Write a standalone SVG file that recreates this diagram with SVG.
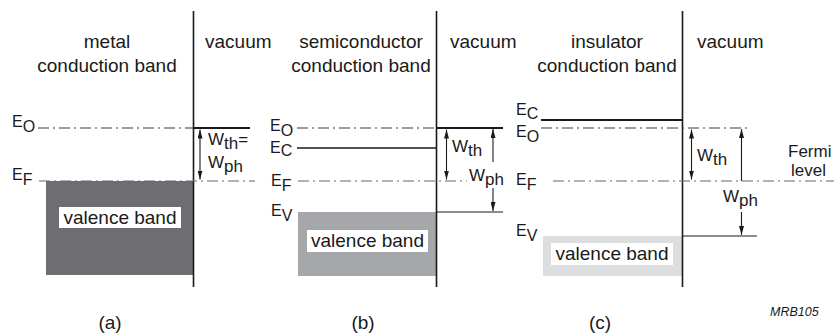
<svg xmlns="http://www.w3.org/2000/svg" width="834" height="334" viewBox="0 0 834 334">
<style>
text{font-family:"Liberation Sans",Arial,sans-serif;fill:#1a1a1a}
.t{font-size:19px}
.c{text-anchor:middle}
.e{font-size:16px}
.w{font-size:17px}
.f{font-size:17px}
.axis{stroke:#1a1a1a;stroke-width:1.6;fill:none}
.lvl{stroke:#1a1a1a;fill:none}
.dd{stroke:#3a3a3a;stroke-width:1.1;stroke-dasharray:11 4 2 4;fill:none}
.dg{stroke:#666;stroke-width:1.2;stroke-dasharray:11 4 2 4;fill:none}
.arr{stroke:#1a1a1a;stroke-width:1.1;fill:none;marker-start:url(#ah);marker-end:url(#ah)}
.arr1{stroke:#1a1a1a;stroke-width:1.1;fill:none;marker-end:url(#ah)}
.box{fill:#fff}
</style>
<defs>
<marker id="ah" viewBox="0 0 9 5" refX="9" refY="2.5" markerWidth="9" markerHeight="5" markerUnits="userSpaceOnUse" orient="auto-start-reverse">
<path d="M0,0 L9,2.5 L0,5 z" fill="#1a1a1a"/>
</marker>
</defs>
<rect width="834" height="334" fill="#fff"/>

<g id="panel-a">
<rect x="46" y="181" width="147.5" height="94" fill="#6e6e72"/>
<rect class="box" x="59" y="207" width="122" height="21"/>
<text class="t c" x="120" y="224">valence band</text>
<line class="axis" x1="193.5" y1="11" x2="193.5" y2="287"/>
<text class="t c" x="107" y="48">metal</text>
<text class="t c" x="107" y="72">conduction band</text>
<text class="t" x="205" y="48">vacuum</text>
<text class="e" x="12" y="127">E<tspan dy="5">O</tspan></text>
<text class="e" x="12" y="180">E<tspan dy="5">F</tspan></text>
<text class="w" x="208" y="145">W<tspan dy="4">th</tspan><tspan dy="-4">=</tspan></text>
<text class="w" x="208" y="168">W<tspan dy="4">ph</tspan></text>
<text class="t c" x="110" y="329">(a)</text>
</g>

<g id="panel-b">
<rect x="298" y="212" width="138.5" height="64" fill="#a6a7aa"/>
<rect class="box" x="307" y="230" width="121" height="22"/>
<text class="t c" x="367.5" y="247">valence band</text>
<line class="axis" x1="436.5" y1="11" x2="436.5" y2="287"/>
<text class="t c" x="361" y="48">semiconductor</text>
<text class="t c" x="361" y="72">conduction band</text>
<text class="t" x="450" y="48">vacuum</text>
<text class="e" x="270" y="131">E<tspan dy="5">O</tspan></text>
<text class="e" x="270" y="153">E<tspan dy="3">C</tspan></text>
<text class="e" x="271" y="186">E<tspan dy="5">F</tspan></text>
<text class="e" x="271" y="216">E<tspan dy="5">V</tspan></text>
<text class="w" x="452" y="152">W<tspan dy="4">th</tspan></text>
<text class="w" x="469" y="181">W<tspan dy="4">ph</tspan></text>
<text class="t c" x="363" y="329">(b)</text>
</g>

<g id="panel-c">
<rect x="543" y="236" width="139.5" height="40" fill="#dcdddf"/>
<rect class="box" x="551" y="243" width="122" height="22"/>
<text class="t c" x="612" y="260">valence band</text>
<line class="axis" x1="682.5" y1="11" x2="682.5" y2="287"/>
<text class="t c" x="607" y="48">insulator</text>
<text class="t c" x="607" y="72">conduction band</text>
<text class="t" x="697" y="48">vacuum</text>
<text class="e" x="516" y="115">E<tspan dy="4">C</tspan></text>
<text class="e" x="516" y="137">E<tspan dy="5">O</tspan></text>
<text class="e" x="516" y="185">E<tspan dy="5">F</tspan></text>
<text class="e" x="516" y="236">E<tspan dy="5">V</tspan></text>
<text class="w" x="697" y="161">W<tspan dy="4">th</tspan></text>
<text class="w" x="723" y="202">W<tspan dy="4">ph</tspan></text>
<text class="f" x="788" y="157">Fermi</text>
<text class="f" x="791" y="176">level</text>
<text class="t c" x="600" y="329">(c)</text>
<text x="770" y="316" style="font-size:12.5px;font-style:italic">MRB105</text>
</g>

<g id="connectors">
<line class="dd" x1="38" y1="128" x2="193" y2="128"/>
<line class="lvl" stroke-width="2" x1="193" y1="128" x2="250" y2="128"/>
<line class="dg" x1="39" y1="181" x2="255" y2="181"/>
<line class="arr" x1="200" y1="129.5" x2="200" y2="179.5"/>

<line class="dd" x1="297" y1="128" x2="436" y2="128"/>
<line class="lvl" stroke-width="2" x1="436" y1="128" x2="503" y2="128"/>
<line class="lvl" stroke-width="1.6" x1="297" y1="148" x2="436" y2="148"/>
<line class="dg" x1="298" y1="181" x2="467" y2="181"/>
<line class="lvl" stroke-width="1" x1="436" y1="212" x2="503" y2="212"/>
<line class="arr" x1="446.5" y1="129.5" x2="446.5" y2="179.5"/>
<line class="arr1" x1="493" y1="162" x2="493" y2="129"/>
<line class="arr1" x1="493" y1="188" x2="493" y2="211"/>

<line class="lvl" stroke-width="2" x1="541" y1="120" x2="682" y2="120"/>
<line class="dd" x1="541" y1="128" x2="750" y2="128"/>
<line class="dg" x1="553" y1="181" x2="834" y2="181"/>
<line class="lvl" stroke-width="1" x1="682" y1="236" x2="757" y2="236"/>
<line class="arr" x1="691.5" y1="129.5" x2="691.5" y2="179.5"/>
<line class="arr1" x1="741.5" y1="181" x2="741.5" y2="129"/>
<line class="arr1" x1="741.5" y1="212" x2="741.5" y2="235"/>
</g>
</svg>
